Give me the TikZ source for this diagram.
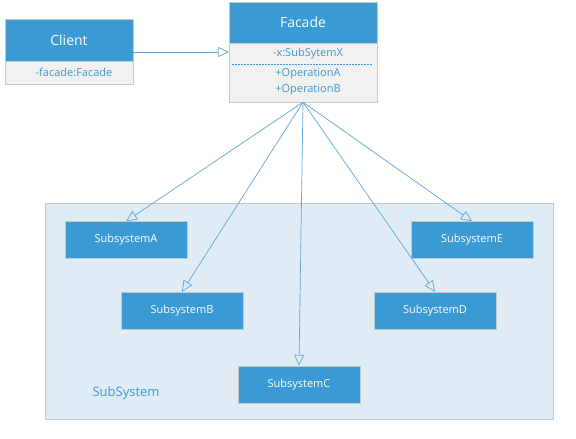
\documentclass[tikz,border=0pt]{standalone}
\usepackage{fontspec}
\setmainfont{Open Sans}
\usetikzlibrary{arrows.meta,positioning}
\definecolor{umlblue}{HTML}{3A9AD3}
\definecolor{umlline}{HTML}{5DA5DA}
\definecolor{umlbody}{HTML}{F2F1EF}
\definecolor{umlframe}{HTML}{C8C8C8}
\definecolor{pkgfill}{HTML}{DFECF6}

\begin{document}
\begin{tikzpicture}[x=1pt,y=-1pt,every node/.style={inner sep=0pt,font=\fontsize{11}{13}\selectfont},
  head/.style={draw=umlframe,fill=umlblue,text=white,font=\fontsize{14}{16}\selectfont},
  body/.style={draw=umlframe,fill=umlbody},
  attr/.style={text=umlblue},
  subbox/.style={draw=umlframe,fill=umlblue,text=white,minimum width=122pt,minimum height=37pt},
  uml/.style={draw=umlline,line width=.7pt,-{Triangle[open,length=11pt,width=10pt]}}]
\useasboundingbox (0,0) rectangle (576,439);
% subsystem package
\node[draw=umlframe,fill=pkgfill,minimum width=508pt,minimum height=216pt] (pkg) at (299,311) {};
\node[text=umlblue,font=\fontsize{13}{15}\selectfont] (pkglabel) at (126,393) {SubSystem};
% client
\node[head,minimum width=128pt,minimum height=42pt] (client) at (69,40) {Client};
\node[body,minimum width=128pt,minimum height=23pt] (clientbody) at (69,72.5) {};
\node[attr] (clientattr) at (74,72.5) {-facade:Facade};
% facade
\node[head,minimum width=148pt,minimum height=41pt] (facade) at (303,22.5) {Facade};
\node[body,minimum width=148pt,minimum height=59pt] (facadebody) at (303,72.5) {};
\node[attr] (fattr) at (308,54) {-x:SubSytemX};
\node[attr] (fopa) at (308,74) {+OperationA};
\node[attr] (fopb) at (308,90) {+OperationB};
\draw[umlblue,line width=.6pt,dash pattern=on 2pt off 1pt] (232,64) -- (372,64);
% subsystems
\node[subbox] (subA) at (126,240) {SubsystemA};
\node[subbox] (subB) at (182,310.5) {SubsystemB};
\node[subbox] (subC) at (299,384.5) {SubsystemC};
\node[subbox] (subD) at (435,310.5) {SubsystemD};
\node[subbox] (subE) at (472,240) {SubsystemE};
% connectors
\coordinate (cout) at (133,52);
\draw[uml] (cout) -- (facadebody.west |- cout);
\draw[uml] (facadebody.south) -- (subA.north);
\draw[uml] (facadebody.south) -- (subB.north);
\draw[uml] (facadebody.south) -- (subC.north);
\draw[uml] (facadebody.south) -- (subD.north);
\draw[uml] (facadebody.south) -- (subE.north);
\end{tikzpicture}
\end{document}
